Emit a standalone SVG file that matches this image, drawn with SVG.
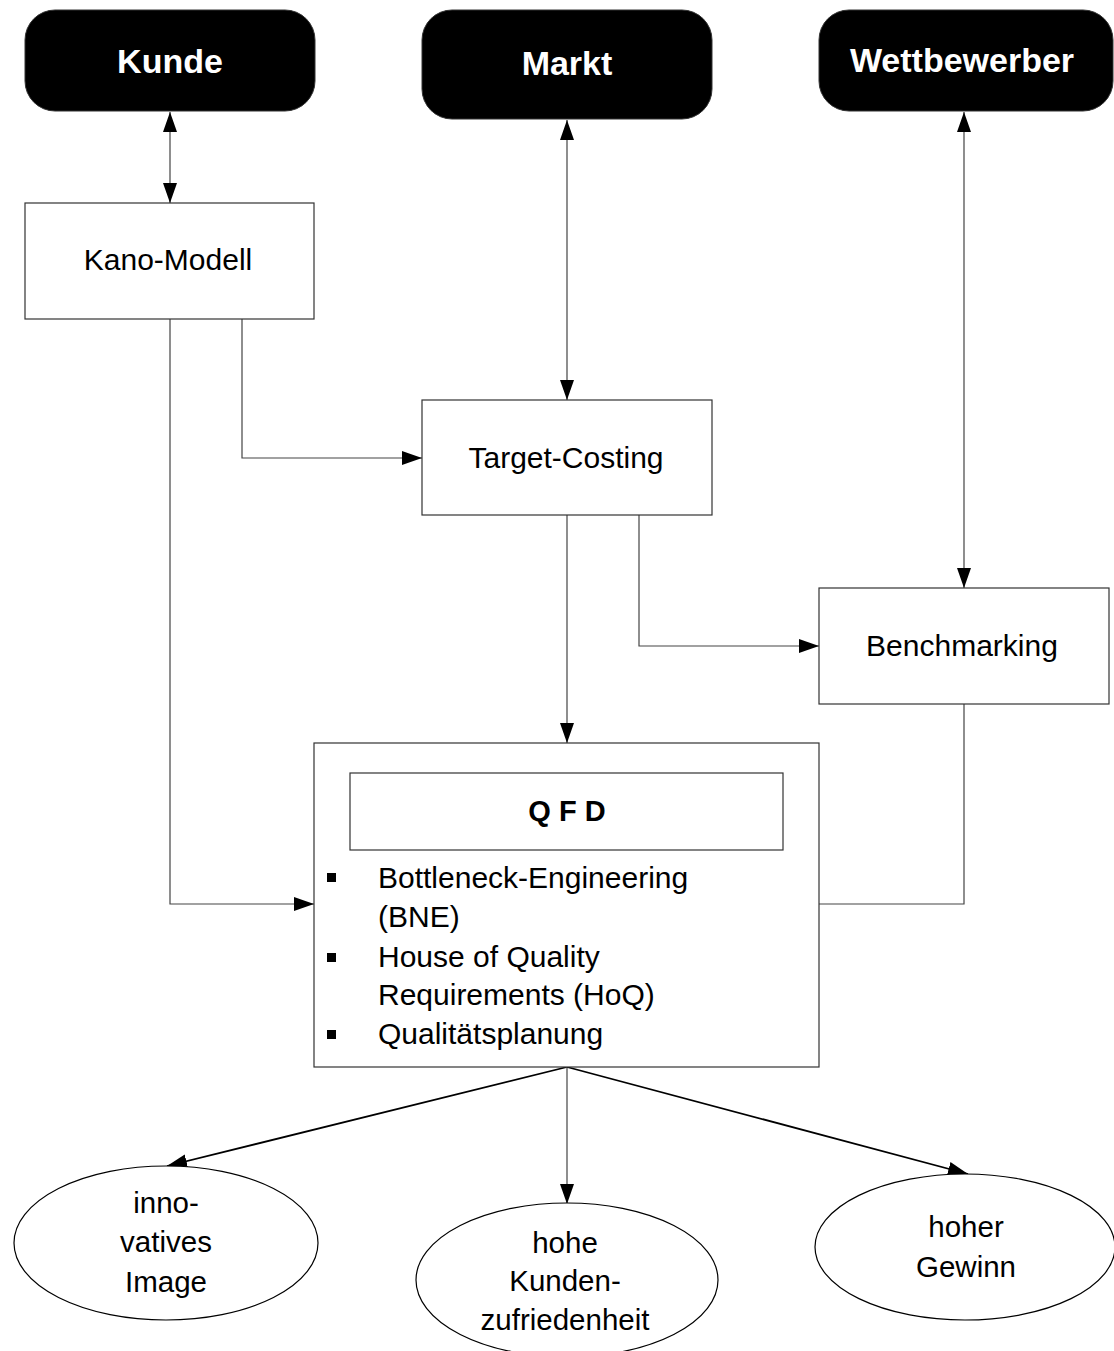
<svg xmlns="http://www.w3.org/2000/svg" width="1114" height="1351" viewBox="0 0 1114 1351">
  <defs>
    <marker id="arrow" viewBox="0 0 20 14" refX="20" refY="7" markerWidth="20" markerHeight="14" markerUnits="userSpaceOnUse" orient="auto-start-reverse">
      <path d="M0,0 L20,7 L0,14 Z" fill="#000"/>
    </marker>
  </defs>
  <style>
    .bg { fill: #fff; }
    .source { fill: #000; stroke: #333; stroke-width: 1; }
    .source-label { font-family: "Liberation Sans", Arial, sans-serif; font-weight: bold; font-size: 34px; fill: #fff; text-anchor: middle; }
    .box { fill: #fff; stroke: #333; stroke-width: 1.2; }
    .label { font-family: "Liberation Sans", Arial, sans-serif; font-size: 30px; fill: #000; text-anchor: middle; }
    .item { font-family: "Liberation Sans", Arial, sans-serif; font-size: 30px; fill: #000; }
    .title { font-family: "Liberation Sans", Arial, sans-serif; font-weight: bold; font-size: 29px; fill: #000; text-anchor: middle; }
    .oval { fill: #fff; stroke: #000; stroke-width: 1.2; }
    .oval-label { font-family: "Liberation Sans", Arial, sans-serif; font-size: 29.5px; fill: #000; text-anchor: middle; }
    .link { fill: none; stroke: #444; stroke-width: 1.2; }
    .link-bold { fill: none; stroke: #000; stroke-width: 1.8; }
  </style>

  <rect class="bg" x="0" y="0" width="1114" height="1351"/>

  <!-- connectors -->
  <g id="connectors">
    <line class="link" x1="170" y1="112" x2="170" y2="203" marker-start="url(#arrow)" marker-end="url(#arrow)"/>
    <line class="link" x1="567" y1="120" x2="567" y2="400" marker-start="url(#arrow)" marker-end="url(#arrow)"/>
    <line class="link" x1="964" y1="112" x2="964" y2="588" marker-start="url(#arrow)" marker-end="url(#arrow)"/>
    <path class="link" d="M170,319 V904 H314" marker-end="url(#arrow)"/>
    <path class="link" d="M242,319 V458 H422" marker-end="url(#arrow)"/>
    <path class="link" d="M639,515 V646 H819" marker-end="url(#arrow)"/>
    <path class="link" d="M567,515 V743" marker-end="url(#arrow)"/>
    <path class="link" d="M964,704 V904 H819"/>
    <line class="link-bold" x1="567" y1="1067" x2="167" y2="1166" marker-end="url(#arrow)"/>
    <line class="link" x1="567" y1="1067" x2="567" y2="1204" marker-end="url(#arrow)"/>
    <line class="link-bold" x1="567" y1="1067" x2="968" y2="1174" marker-end="url(#arrow)"/>
  </g>

  <!-- source nodes -->
  <g id="kunde">
    <rect class="source" x="25" y="10" width="290" height="101" rx="30" ry="30"/>
    <text class="source-label" x="170" y="73">Kunde</text>
  </g>
  <g id="markt">
    <rect class="source" x="422" y="10" width="290" height="109" rx="30" ry="30"/>
    <text class="source-label" x="567" y="75">Markt</text>
  </g>
  <g id="wettbewerber">
    <rect class="source" x="819" y="10" width="294" height="101" rx="30" ry="30"/>
    <text class="source-label" x="962" y="72">Wettbewerber</text>
  </g>

  <!-- method boxes -->
  <g id="kano-modell">
    <rect class="box" x="25" y="203" width="289" height="116"/>
    <text class="label" x="168" y="270">Kano-Modell</text>
  </g>
  <g id="target-costing">
    <rect class="box" x="422" y="400" width="290" height="115"/>
    <text class="label" x="566" y="468">Target-Costing</text>
  </g>
  <g id="benchmarking">
    <rect class="box" x="819" y="588" width="290" height="116"/>
    <text class="label" x="962" y="656">Benchmarking</text>
  </g>

  <!-- QFD block with its sub-methods -->
  <g id="qfd">
    <rect class="box" x="314" y="743" width="505" height="324"/>
    <rect class="box" x="350" y="773" width="433" height="77"/>
    <text class="title" x="567" y="821" xml:space="preserve">Q F D</text>
    <rect x="327" y="873" width="9" height="9" fill="#000"/>
    <rect x="327" y="953" width="9" height="9" fill="#000"/>
    <rect x="327" y="1030" width="9" height="9" fill="#000"/>
    <text class="item" x="378" y="888">Bottleneck-Engineering</text>
    <text class="item" x="378" y="927">(BNE)</text>
    <text class="item" x="378" y="967">House of Quality</text>
    <text class="item" x="378" y="1005">Requirements (HoQ)</text>
    <text class="item" x="378" y="1044">Qualitätsplanung</text>
  </g>

  <!-- outcomes -->
  <g id="innovatives-image">
    <ellipse class="oval" cx="166" cy="1243" rx="152" ry="77"/>
    <text class="oval-label" x="166" y="1213">inno-</text>
    <text class="oval-label" x="166" y="1252">vatives</text>
    <text class="oval-label" x="166" y="1292">Image</text>
  </g>
  <g id="kundenzufriedenheit">
    <ellipse class="oval" cx="567" cy="1280" rx="151" ry="77"/>
    <text class="oval-label" x="565" y="1253">hohe</text>
    <text class="oval-label" x="565" y="1291">Kunden-</text>
    <text class="oval-label" x="565" y="1330">zufriedenheit</text>
  </g>
  <g id="hoher-gewinn">
    <ellipse class="oval" cx="965" cy="1247" rx="150" ry="73"/>
    <text class="oval-label" x="966" y="1237">hoher</text>
    <text class="oval-label" x="966" y="1277">Gewinn</text>
  </g>
</svg>
